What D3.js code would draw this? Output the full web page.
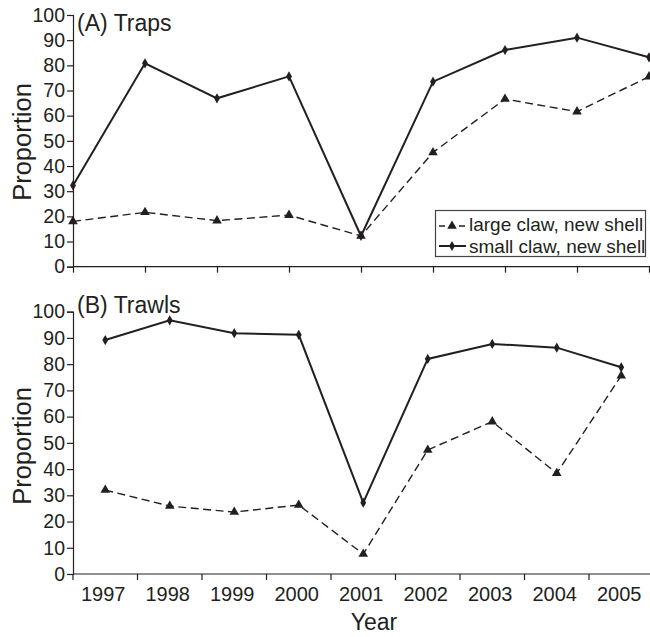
<!DOCTYPE html>
<html>
<head>
<meta charset="utf-8">
<script src="https://cdn.jsdelivr.net/npm/d3@7"></script>
<style>
  body { margin: 0; background: #fff; }
  text { font-family: "Liberation Sans", Arial, Helvetica, sans-serif; fill: #231f20; }
</style>
</head>
<body>
<svg id="chart" width="650" height="637"></svg>
<script>
const years = ["1997","1998","1999","2000","2001","2002","2003","2004","2005"];
const yTicks = [0,10,20,30,40,50,60,70,80,90,100];
const trapsLarge = [18, 21.6, 18.3, 20.5, 12.2, 45.4, 66.6, 61.6, 75.5];
const trapsSmall = [32.3, 80.8, 66.9, 75.6, 12.2, 73.5, 86.1, 91, 83.2];
const trawlsLarge = [32, 25.9, 23.6, 26.3, 7.6, 47.3, 58.1, 38.4, 75.6];
const trawlsSmall = [89.2, 96.7, 91.8, 91.2, 27.2, 82, 87.7, 86.3, 78.8];
const legendLabels = ["large claw, new shell", "small claw, new shell"];

const svg = d3.select("#chart");
const ink = "#231f20";

function drawYAxis(g, y, x0) {
  const ax = d3.axisLeft(y).tickValues(yTicks).tickSize(6).tickPadding(2);
  const a = g.append("g").attr("transform", `translate(${x0},0)`).call(ax);
  a.select(".domain").attr("stroke", ink).attr("stroke-width", 1.2);
  a.selectAll(".tick line").attr("stroke", ink).attr("stroke-width", 1.2);
  a.selectAll(".tick text").style("font-size", "19.5px").attr("fill", ink)
    .style("font-family", "'Liberation Sans', Arial, sans-serif");
}

function drawSeries(g, xf, y, large, small) {
  const lineL = d3.line().x((d,i)=>xf(years[i])).y(d=>y(d));
  g.append("path").datum(large).attr("d", lineL).attr("fill","none")
    .attr("stroke", ink).attr("stroke-width", 1.4).attr("stroke-dasharray","8,4.5");
  g.append("path").datum(small).attr("d", lineL).attr("fill","none")
    .attr("stroke", ink).attr("stroke-width", 2);
  const tri = d3.symbol().type(d3.symbolTriangle).size(40);
  const dia = d3.symbol().type(d3.symbolDiamond).size(30);
  g.selectAll(null).data(large).enter().append("path").attr("d", tri)
    .attr("transform",(d,i)=>`translate(${xf(years[i])},${y(d)})`).attr("fill", ink);
  g.selectAll(null).data(small).enter().append("path").attr("d", dia)
    .attr("transform",(d,i)=>`translate(${xf(years[i])},${y(d)})`).attr("fill", ink);
}

// ---------- Panel A ----------
const gA = svg.append("g");
const yA = d3.scaleLinear().domain([0,100]).range([266.7, 15]);
const xA = d3.scalePoint().domain(years).range([73, 649]).padding(0);
drawYAxis(gA, yA, 73);
const axA = gA.append("g").attr("transform", `translate(0,${yA(0)})`)
  .call(d3.axisBottom(xA).tickSize(6).tickFormat(""));
axA.select(".domain").remove();
axA.selectAll(".tick line").attr("stroke", ink).attr("stroke-width", 1.2);
gA.append("line").attr("x1", 73).attr("x2", 650).attr("y1", yA(0)).attr("y2", yA(0))
  .attr("stroke", ink).attr("stroke-width", 1.2);
drawSeries(gA, d => xA(d), yA, trapsLarge, trapsSmall);
gA.append("text").attr("x", 77).attr("y", 31).style("font-size", "23px").text("(A) Traps");
gA.append("text").attr("transform", `translate(31,142) rotate(-90)`).attr("text-anchor","middle")
  .style("font-size", "25.5px").text("Proportion");

// legend
const lg = gA.append("g");
lg.append("rect").attr("x", 435.5).attr("y", 210.5).attr("width", 210).attr("height", 46)
  .attr("fill", "#fff").attr("stroke", "#444").attr("stroke-width", 1.2);
[0,1].forEach(i => {
  const ly = 226 + i*20;
  lg.append("line").attr("x1", 439).attr("x2", 466).attr("y1", ly).attr("y2", ly)
    .attr("stroke", ink).attr("stroke-width", i ? 2 : 1.4).attr("stroke-dasharray", i ? null : "6,4");
  lg.append("path").attr("d", d3.symbol().type(i ? d3.symbolDiamond : d3.symbolTriangle).size(i ? 30 : 40))
    .attr("transform", `translate(452,${ly})`).attr("fill", ink);
  lg.append("text").attr("x", 469).attr("y", ly + 3 + (i?4:2)).style("font-size", "19px").text(legendLabels[i]);
});

// ---------- Panel B ----------
const gB = svg.append("g");
const yB = d3.scaleLinear().domain([0,100]).range([574, 311.7]);
const xB = d3.scaleBand().domain(years).range([73, 653.5]);
drawYAxis(gB, yB, 73);
gB.append("line").attr("x1", 73).attr("x2", 650).attr("y1", yB(0)).attr("y2", yB(0))
  .attr("stroke", ink).attr("stroke-width", 1.2);
gB.selectAll(null).data(years).enter().append("line")
  .attr("x1", d => xB(d)).attr("x2", d => xB(d))
  .attr("y1", yB(0)).attr("y2", yB(0) + 6).attr("stroke", ink).attr("stroke-width", 1.2);
const axB = gB.append("g").attr("transform", `translate(0,${yB(0)})`)
  .call(d3.axisBottom(xB).tickSize(0).tickPadding(13));
axB.select(".domain").remove();
axB.selectAll(".tick text").style("font-size", "20px").attr("fill", ink)
  .style("font-family", "'Liberation Sans', Arial, sans-serif").attr("dx", "-2");
drawSeries(gB, d => xB(d) + xB.bandwidth()/2, yB, trawlsLarge, trawlsSmall);
gB.append("text").attr("x", 77).attr("y", 313).style("font-size", "23px").text("(B) Trawls");
gB.append("text").attr("transform", `translate(31,446) rotate(-90)`).attr("text-anchor","middle")
  .style("font-size", "25.5px").text("Proportion");
gB.append("text").attr("x", 374).attr("y", 630).attr("text-anchor","middle")
  .style("font-size", "23px").text("Year");
</script>
</body>
</html>
